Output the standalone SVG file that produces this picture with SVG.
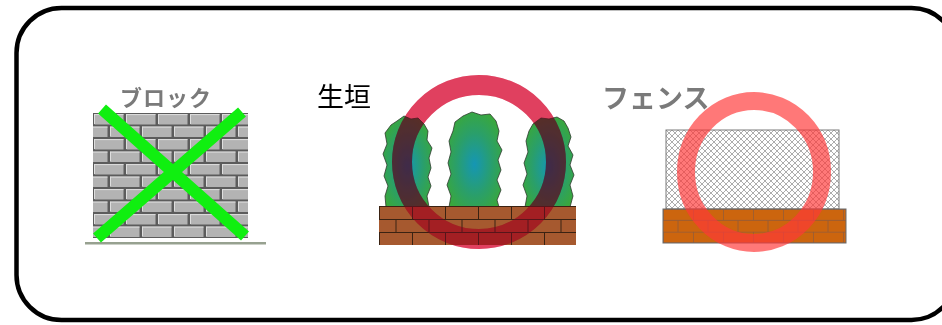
<svg xmlns="http://www.w3.org/2000/svg" width="942" height="325" viewBox="0 0 942 325">
  <style>
    .label { font-family: "Noto Sans CJK JP", "Noto Sans", sans-serif; }
    .gray { fill: #7a7a7a; font-weight: bold; }
    .bush { stroke: #2e3a2e; stroke-width: 0.8; fill: url(#bushShade); }
    .ring { fill: none; stroke: #e0405f; stroke-width: 20; }
  </style>
  <defs>
    <!-- grey concrete block courses -->
    <pattern id="blockBricks" x="93" y="113" width="32" height="25" patternUnits="userSpaceOnUse">
      <rect width="32" height="25" fill="#5c5c5c"/>
      <rect x="1.5" y="1" width="29" height="10.5" fill="#b3b3b3"/>
      <path d="M1.5 1.6h29M1.5 1v10" stroke="#dedede" stroke-width="1"/>
      <rect x="-14.5" y="13.5" width="29" height="10.5" fill="#b3b3b3"/>
      <rect x="17.5" y="13.5" width="29" height="10.5" fill="#b3b3b3"/>
      <path d="M-14.5 14.1h29M17.5 14.1h29M17.5 13.5v10" stroke="#dedede" stroke-width="1"/>
    </pattern>
    <!-- red-brown hedge base bricks -->
    <pattern id="hedgeBricks" x="379" y="206" width="33" height="26" patternUnits="userSpaceOnUse">
      <rect width="33" height="26" fill="#a6592f"/>
      <path d="M0 0.5H33M0 13.5H33M0.5 0V13.5M17 13.5V26" stroke="#3a2212" stroke-width="1" fill="none"/>
    </pattern>
    <!-- orange fence base bricks -->
    <pattern id="fenceBricks" x="663" y="209" width="30" height="22.7" patternUnits="userSpaceOnUse">
      <rect width="30" height="22.7" fill="#cc650e"/>
      <path d="M0 0.4H30M0 11.35H30M0.4 0V11.35M15 11.35V22.7" stroke="#8e5a3c" stroke-width="0.8" fill="none"/>
    </pattern>
    <!-- chain-link mesh -->
    <pattern id="mesh" x="666" y="130" width="6" height="6" patternUnits="userSpaceOnUse">
      <path d="M0 0L6 6M6 0L0 6" stroke="#8a8a8a" stroke-width="0.7" fill="none"/>
    </pattern>
    <radialGradient id="bushShade" cx="0.5" cy="0.55" r="0.6">
      <stop offset="0" stop-color="#1596b4"/>
      <stop offset="0.55" stop-color="#2a9f6a"/>
      <stop offset="1" stop-color="#3aa83a"/>
    </radialGradient>
  </defs>

  <rect width="942" height="325" fill="#ffffff"/>

  <!-- rounded frame -->
  <g id="frame">
    <rect x="16.5" y="8" width="940" height="312" rx="45" ry="45" fill="#ffffff" stroke="#000000" stroke-width="4.5"/>
  </g>

  <!-- block wall, crossed out -->
  <g id="block">
    <text class="label gray" x="120" y="106" font-size="22" letter-spacing="1">ブロック</text>
    <rect x="93" y="113" width="155" height="125" fill="url(#blockBricks)"/>
    <rect x="85" y="242" width="181" height="2.5" fill="#7d8a74" opacity="0.8"/>
    <path d="M102 109L245 236M242 112L97 238" stroke="#10ef10" stroke-width="12" fill="none"/>
  </g>

  <!-- hedge, circled -->
  <g id="hedge">
    <text class="label" x="317" y="107" font-size="27" fill="#000000">生垣</text>
    <path class="bush" d="M386 207L385 196L388 186L384 176L387 165L383 154L387 144L385 133L391 125L397 121L404 116L411 119L418 118L424 124L428 131L427 140L432 148L429 158L431 168L428 177L431 186L427 196L429 207Z"/>
    <path class="bush" d="M449 207L451 196L447 185L451 174L448 163L451 152L449 141L453 131L455 122L463 116L472 112L481 115L490 114L496 121L499 131L497 141L502 150L498 160L501 170L497 180L501 190L497 200L499 207Z"/>
    <path class="bush" d="M525 207L527 196L523 185L527 174L524 163L528 152L526 141L529 131L533 124L541 118L549 119L557 117L564 121L568 128L571 137L568 146L573 155L570 165L574 175L570 185L573 196L570 207Z"/>
    <rect x="379" y="206" width="197" height="39" fill="url(#hedgeBricks)"/>
    <!-- darkening pass, then a light tint of the same red -->
    <circle class="ring" cx="479" cy="162" r="77" style="mix-blend-mode:multiply"/>
    <circle class="ring" cx="479" cy="162" r="77" opacity="0.22"/>
  </g>

  <!-- fence, circled -->
  <g id="fence">
    <text class="label gray" x="602" y="108" font-size="27">フェンス</text>
    <rect x="666" y="130" width="173" height="79" fill="url(#mesh)" stroke="#7a7a7a" stroke-width="1"/>
    <rect x="663" y="209" width="183" height="34" fill="url(#fenceBricks)" stroke="#6a6a6a" stroke-width="1"/>
    <ellipse cx="754" cy="172" rx="68" ry="71" fill="none" stroke="#ff3838" stroke-width="18" opacity="0.68"/>
  </g>
</svg>
